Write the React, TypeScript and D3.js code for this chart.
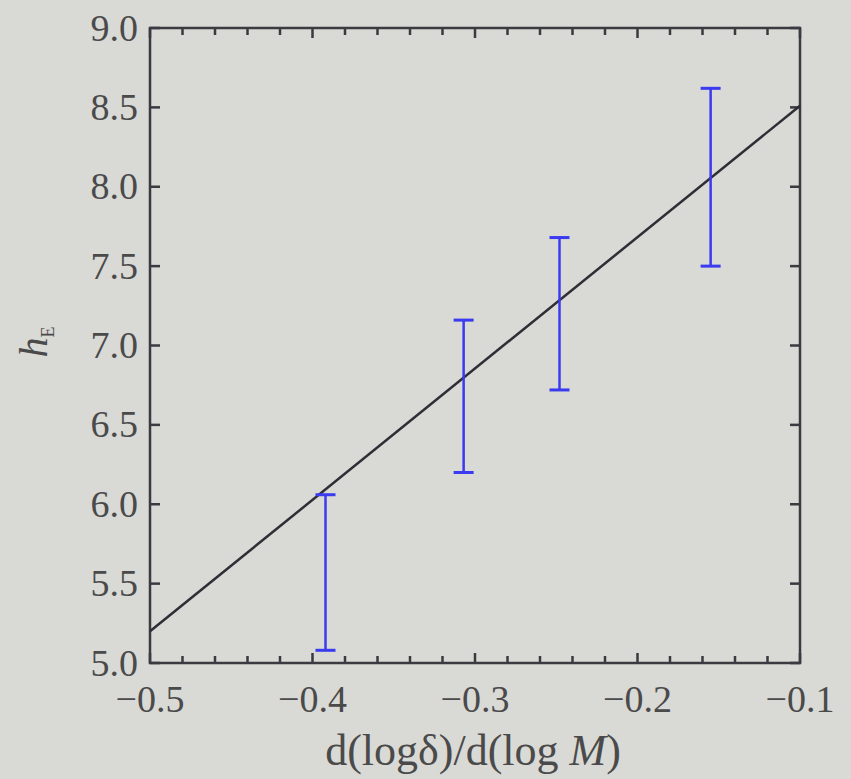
import React, { useEffect, useRef } from "react";
import * as d3 from "d3";

// error bars: x, low, high
const slopes = [-0.392, -0.307, -0.248, -0.155];
const lows = [5.08, 6.2, 6.72, 7.5];
const highs = [6.06, 7.16, 7.68, 8.62];
// fit line ends
const fitX = [-0.5, -0.1];
const fitY = [5.2, 8.51];

const xTicks = [-0.5, -0.4, -0.3, -0.2, -0.1];
const yTicks = [5.0, 5.5, 6.0, 6.5, 7.0, 7.5, 8.0, 8.5, 9.0];

const App = () => {
    const svgRef = useRef<SVGSVGElement>(null);

    useEffect(() => {
        const width = 851;
        const height = 779;
        const margin = { top: 28, right: 51, bottom: 116, left: 150 };
        const w = width - margin.left - margin.right;
        const h = height - margin.top - margin.bottom;

        const svg = d3.select(svgRef.current);
        svg.selectAll("*").remove();
        svg.attr("width", width).attr("height", height);

        svg.append("rect").attr("width", width).attr("height", height).attr("fill", "#d9d9d5");

        const x = d3.scaleLinear().domain([-0.5, -0.1]).range([0, w]);
        const y = d3.scaleLinear().domain([5, 9]).range([h, 0]);

        const g = svg.append("g").attr("transform", `translate(${margin.left},${margin.top})`);
        const axisColor = "#3a3a40";
        const textColor = "#4a4a4a";

        // minor ticks on x every 0.02
        const minor = d3.range(0, 21).map((i) => -0.5 + i * 0.02);
        minor.forEach((v, i) => {
            const len = i % 5 === 0 ? 10 : 7;
            g.append("line").attr("x1", x(v)).attr("x2", x(v)).attr("y1", h).attr("y2", h - len)
                .attr("stroke", axisColor).attr("stroke-width", 2.5);
            g.append("line").attr("x1", x(v)).attr("x2", x(v)).attr("y1", 0).attr("y2", len)
                .attr("stroke", axisColor).attr("stroke-width", 2.5);
        });
        yTicks.forEach((v) => {
            g.append("line").attr("x1", 0).attr("x2", 10).attr("y1", y(v)).attr("y2", y(v))
                .attr("stroke", axisColor).attr("stroke-width", 2.5);
            g.append("line").attr("x1", w).attr("x2", w - 10).attr("y1", y(v)).attr("y2", y(v))
                .attr("stroke", axisColor).attr("stroke-width", 2.5);
        });

        // frame
        g.append("rect").attr("width", w).attr("height", h).attr("fill", "none")
            .attr("stroke", axisColor).attr("stroke-width", 2.5);

        // tick labels
        const font = "'Liberation Serif', 'DejaVu Serif', serif";
        g.selectAll("text.xt").data(xTicks).enter().append("text")
            .attr("class", "xt")
            .attr("x", (d) => x(d))
            .attr("y", h + 49)
            .attr("text-anchor", "middle")
            .attr("font-family", font).attr("font-size", 38).attr("fill", textColor)
            .text((d) => d3.format(".1f")(d).replace("-", "\u2013"));
        g.selectAll("text.yt").data(yTicks).enter().append("text")
            .attr("class", "yt")
            .attr("x", -12)
            .attr("y", (d) => y(d))
            .attr("dy", "0.33em")
            .attr("text-anchor", "end")
            .attr("font-family", font).attr("font-size", 38).attr("fill", textColor)
            .text((d) => d3.format(".1f")(d));

        // fit line
        const line = d3.line<number>().x((d, i) => x(fitX[i])).y((d) => y(d));
        g.append("path").datum(fitY).attr("d", line).attr("fill", "none")
            .attr("stroke", "#2e2e36").attr("stroke-width", 2.5);

        // error bars
        const blue = "#3a3af0";
        slopes.forEach((s, i) => {
            g.append("line").attr("x1", x(s)).attr("x2", x(s)).attr("y1", y(lows[i])).attr("y2", y(highs[i]))
                .attr("stroke", blue).attr("stroke-width", 2.5);
            [lows[i], highs[i]].forEach((v) => {
                g.append("line").attr("x1", x(s) - 10).attr("x2", x(s) + 10).attr("y1", y(v)).attr("y2", y(v))
                    .attr("stroke", blue).attr("stroke-width", 3);
            });
        });

        // axis titles
        const xl = svg.append("text")
            .attr("x", 473)
            .attr("y", 765)
            .attr("text-anchor", "middle")
            .attr("font-family", font).attr("font-size", 44).attr("fill", textColor);
        xl.append("tspan").text("d(log\u03b4)/d(log ");
        xl.append("tspan").attr("font-style", "italic").text("M");
        xl.append("tspan").text(")");

        const yl = svg.append("text")
            .attr("transform", `translate(47,342) rotate(-90)`)
            .attr("text-anchor", "middle")
            .attr("font-family", font).attr("font-size", 40).attr("fill", textColor);
        yl.append("tspan").attr("font-style", "italic").text("h");
        yl.append("tspan").attr("font-size", 18).attr("dy", 7).text("E");
    }, []);

    return <svg ref={svgRef} style={{ display: "block", position: "absolute", left: 0, top: 0 }}></svg>;
};

export default App;
